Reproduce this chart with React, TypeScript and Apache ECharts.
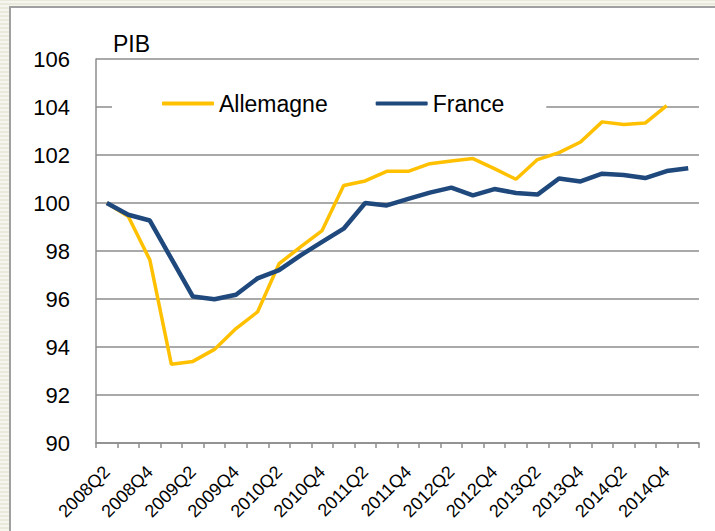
import React, { useEffect, useRef } from "react";
import * as echarts from "echarts";

const categories = [
  "2008Q2", "2008Q3", "2008Q4", "2009Q1", "2009Q2", "2009Q3", "2009Q4",
  "2010Q1", "2010Q2", "2010Q3", "2010Q4", "2011Q1", "2011Q2", "2011Q3",
  "2011Q4", "2012Q1", "2012Q2", "2012Q3", "2012Q4", "2013Q1", "2013Q2",
  "2013Q3", "2013Q4", "2014Q1", "2014Q2", "2014Q3", "2014Q4", "2015Q1",
];

const allemagne: (number | null)[] = [
  100.0, 99.44, 97.63, 93.28, 93.4, 93.9, 94.77, 95.46, 97.47, 98.17,
  98.85, 100.73, 100.92, 101.32, 101.32, 101.64, 101.75, 101.85, 101.43,
  100.99, 101.81, 102.1, 102.54, 103.38, 103.27, 103.33, 104.06, null,
];

const france: number[] = [
  100.0, 99.51, 99.27, 97.68, 96.1, 95.99, 96.18, 96.86, 97.2, 97.82,
  98.38, 98.93, 100.0, 99.9, 100.17, 100.43, 100.64, 100.32, 100.58,
  100.42, 100.35, 101.02, 100.9, 101.22, 101.17, 101.04, 101.33, 101.45,
];

const yTicks = { min: 90, max: 106, interval: 2 };

const FONT = "Liberation Sans";
const YELLOW = "#FFC000";
const BLUE = "#1F497D";

export default function App() {
  const ref = useRef<HTMLDivElement>(null);

  useEffect(() => {
    if (!ref.current) return;
    const chart = echarts.init(ref.current, undefined, { renderer: "svg" });
    chart.setOption({
      animation: false,
      backgroundColor: "transparent",
      textStyle: { fontFamily: FONT },
      title: {
        text: "PIB",
        left: 113,
        top: 32,
        padding: 0,
        textStyle: { fontFamily: FONT, fontSize: 23, fontWeight: "normal", color: "#000" },
      },
      legend: {
        left: 112,
        top: 82,
        padding: [10, 42, 10, 50],
        backgroundColor: "#ffffff",
        itemWidth: 52,
        itemHeight: 4,
        itemGap: 48,
        textStyle: { fontFamily: FONT, fontSize: 23, color: "#000" },
        data: [
          { name: "Allemagne", icon: "roundRect", itemStyle: { color: YELLOW } },
          { name: "France", icon: "roundRect", itemStyle: { color: BLUE } },
        ],
      },
      grid: { left: 96, right: 16, top: 59, bottom: 88, containLabel: false },
      xAxis: {
        type: "category",
        data: categories,
        boundaryGap: true,
        axisLine: { show: true, lineStyle: { color: "#8c8c8c", width: 1.5 } },
        axisTick: { show: true, length: 5, interval: 0, lineStyle: { color: "#8c8c8c", width: 1.5 } },
        axisLabel: {
          interval: 1,
          rotate: 45,
          margin: 26,
          fontFamily: FONT,
          fontSize: 18,
          color: "#000",
        },
        splitLine: { show: false },
      },
      yAxis: {
        type: "value",
        min: yTicks.min,
        max: yTicks.max,
        interval: yTicks.interval,
        axisLine: { show: true, lineStyle: { color: "#8c8c8c", width: 1.5 } },
        axisTick: { show: false },
        axisLabel: { margin: 26, fontFamily: FONT, fontSize: 22, color: "#000" },
        splitLine: { show: true, lineStyle: { color: "#8c8c8c", width: 1.5 } },
      },
      series: [
        {
          name: "Allemagne",
          type: "line",
          data: allemagne,
          symbol: "none",
          showSymbol: false,
          connectNulls: false,
          lineStyle: { color: YELLOW, width: 3.5 },
          itemStyle: { color: YELLOW },
          z: 3,
        },
        {
          name: "France",
          type: "line",
          data: france,
          symbol: "none",
          showSymbol: false,
          lineStyle: { color: BLUE, width: 4.5 },
          itemStyle: { color: BLUE },
          z: 4,
        },
      ],
    });
    return () => chart.dispose();
  }, []);

  return (
    <div
      style={{
        position: "fixed",
        left: 0,
        top: 0,
        width: 715,
        height: 531,
        overflow: "hidden",
        background: "repeating-linear-gradient(0deg, #f6f6ee 0px, #f6f6ee 2px, #e9eadc 2px, #e9eadc 4px)",
      }}
    >
      <div
        style={{
          position: "absolute",
          left: 9,
          top: 6,
          width: 720,
          height: 540,
          background: "#ffffff",
          borderLeft: "2px solid #a0a0a0",
          borderTop: "2px solid #a0a0a0",
        }}
      />
      <div ref={ref} style={{ position: "absolute", left: 0, top: 0, width: 715, height: 531 }} />
    </div>
  );
}
